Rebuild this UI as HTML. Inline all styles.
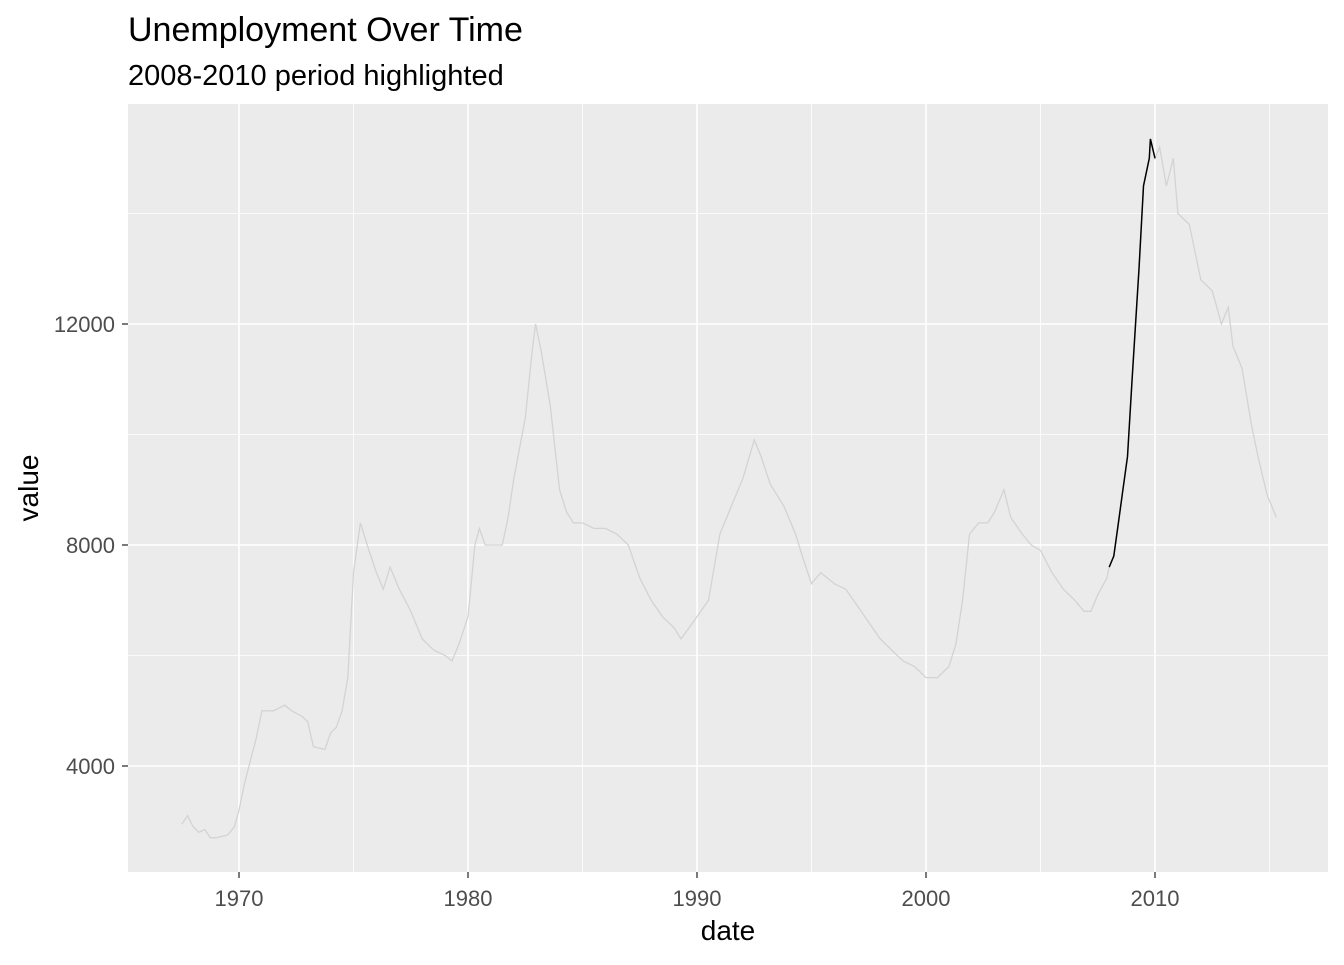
<!DOCTYPE html>
<html><head><meta charset="utf-8"><style>
body{margin:0;background:#fff;}
svg text{font-family:"Liberation Sans",Arial,sans-serif;}
</style></head><body>
<svg width="1344" height="960">
<text x="128" y="41" font-size="34" fill="#000">Unemployment Over Time</text>
<text x="128" y="85" font-size="29" fill="#000">2008-2010 period highlighted</text>
<rect x="128" y="104" width="1200" height="768" fill="#ebebeb"/>
<g id="grid"></g>
<g id="lines"></g>
<g id="axes"></g>
<text x="728" y="940" font-size="28" text-anchor="middle" fill="#000">date</text>
<text transform="translate(38,488) rotate(-90)" font-size="28" text-anchor="middle" fill="#000">value</text>
</svg>
<script>
const years=[1967.5,1967.75,1968.0,1968.25,1968.5,1968.75,1969.0,1969.5,1969.8,1970.0,1970.25,1970.5,1970.75,1971.0,1971.5,1972.0,1972.3,1972.75,1973.0,1973.25,1973.75,1974.0,1974.25,1974.5,1974.75,1975.0,1975.3,1975.6,1976.0,1976.3,1976.6,1977.0,1977.5,1978.0,1978.5,1979.0,1979.3,1979.6,1980.0,1980.3,1980.5,1980.75,1981.0,1981.5,1981.75,1982.0,1982.5,1982.8,1982.95,1983.2,1983.6,1984.0,1984.3,1984.6,1985.0,1985.5,1986.0,1986.5,1987.0,1987.5,1988.0,1988.5,1989.0,1989.3,1990.0,1990.5,1991.0,1991.5,1992.0,1992.5,1992.8,1993.2,1993.8,1994.3,1994.6,1995.0,1995.4,1996.0,1996.5,1997.0,1997.5,1998.0,1998.5,1999.0,1999.5,2000.0,2000.5,2001.0,2001.3,2001.6,2001.9,2002.3,2002.7,2003.0,2003.4,2003.7,2004.2,2004.6,2005.0,2005.5,2006.0,2006.5,2006.9,2007.2,2007.5,2007.9,2008.0,2008.2,2008.4,2008.6,2008.8,2009.0,2009.3,2009.5,2009.75,2009.8,2010.0,2010.2,2010.5,2010.8,2011.0,2011.5,2012.0,2012.5,2012.9,2013.2,2013.4,2013.8,2014.2,2014.5,2014.9,2015.3];
const unemploy=[2944,3100,2900,2800,2850,2700,2700,2750,2900,3200,3700,4100,4500,5000,5000,5100,5000,4900,4800,4350,4300,4600,4700,5000,5600,7500,8400,8000,7500,7200,7600,7200,6800,6300,6100,6000,5900,6200,6700,8000,8300,8000,8000,8000,8500,9200,10300,11500,12000,11500,10500,9000,8600,8400,8400,8300,8300,8200,8000,7400,7000,6700,6500,6300,6700,7000,8200,8700,9200,9900,9600,9100,8700,8200,7800,7300,7500,7300,7200,6900,6600,6300,6100,5900,5800,5600,5600,5800,6200,7000,8200,8400,8400,8600,9000,8500,8200,8000,7900,7500,7200,7000,6800,6800,7100,7400,7600,7800,8400,9000,9600,11000,13000,14500,15000,15350,15000,15200,14500,15000,14000,13800,12800,12600,12000,12300,11600,11200,10200,9600,8900,8500];
const hlStart=2008, hlEnd=2010;
const xTicks=[1970,1980,1990,2000,2010];
const yTicks=[4000,8000,12000];
const xMinor=[1975,1985,1995,2005,2015];
const yMinor=[6000,10000,14000];
const X=v=>239+(v-1970)*22.9;
const Y=v=>987-v*0.05525;
const NS='http://www.w3.org/2000/svg';
function mk(p,t,a){const e=document.createElementNS(NS,t);for(const k in a)e.setAttribute(k,a[k]);p.appendChild(e);return e;}
const grid=document.getElementById('grid'),axes=document.getElementById('axes'),lines=document.getElementById('lines');
yMinor.forEach(v=>{const l=mk(grid,'line',{x1:128,x2:1328,y1:Y(v),y2:Y(v),stroke:'#fff','stroke-width':0.8});

});
xMinor.forEach(v=>{const l=mk(grid,'line',{x1:X(v),x2:X(v),y1:104,y2:872,stroke:'#fff','stroke-width':0.8});

});
yTicks.forEach(v=>{const l=mk(grid,'line',{x1:128,x2:1328,y1:Y(v),y2:Y(v),stroke:'#fff','stroke-width':1.6});


const t=mk(axes,'line',{x1:122,x2:128,y1:Y(v),y2:Y(v),stroke:'#333','stroke-width':1.3});


const tx=mk(axes,'text',{x:115,y:Y(v)+8,'font-size':22,'text-anchor':'end',fill:'#4d4d4d'});tx.textContent=v;

});
xTicks.forEach(v=>{const l=mk(grid,'line',{x1:X(v),x2:X(v),y1:104,y2:872,stroke:'#fff','stroke-width':1.6});


const t=mk(axes,'line',{x1:X(v),x2:X(v),y1:872,y2:878,stroke:'#333','stroke-width':1.3});


const tx=mk(axes,'text',{x:X(v),y:906,'font-size':22,'text-anchor':'middle',fill:'#4d4d4d'});tx.textContent=v;

});
const all=years.map((y,i)=>X(y).toFixed(1)+','+Y(unemploy[i]).toFixed(1)).join(' ');
const gl=mk(lines,'polyline',{points:all,fill:'none',stroke:'#d3d3d3','stroke-width':1.3});


const hp=years.map((y,i)=>[y,unemploy[i]]).filter(p=>p[0]>=hlStart&&p[0]<=hlEnd).map(p=>X(p[0]).toFixed(1)+','+Y(p[1]).toFixed(1)).join(' ');
const hl=mk(lines,'polyline',{points:hp,fill:'none',stroke:'#000','stroke-width':1.5});


</script>
</body></html>
